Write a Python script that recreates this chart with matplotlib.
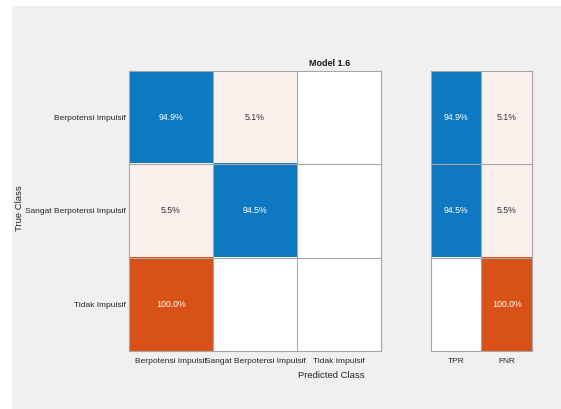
import matplotlib
matplotlib.use("Agg")
import matplotlib.pyplot as plt
import numpy as np
from matplotlib.patches import Rectangle

plt.rcParams["font.family"] = ["Liberation Sans", "DejaVu Sans"]

# Data (row-normalized percentages)
classes = ["Berpotensi Impulsif", "Sangat Berpotensi Impulsif", "Tidak Impulsif"]
pct = [[94.9, 5.1, 0.0],
       [5.5, 94.5, 0.0],
       [100.0, 0.0, 0.0]]
tpr = [94.9, 94.5, 0.0]
fnr = [5.1, 5.5, 100.0]
summary_labels = ["TPR", "FNR"]
title = "Model 1.6"

blue = np.array([0.0, 0.447, 0.741])
orange = np.array([0.85, 0.325, 0.098])
white = np.array([1.0, 1.0, 1.0])


def shade(v, good):
    base = blue if good else orange
    f = v / 100.0
    if 0 < f < 0.9:
        f = min(1.0, f * 1.5)
    return white + f * (base - white)


W, H = 561, 409
fig = plt.figure(figsize=(W / 100, H / 100), dpi=100, facecolor="white")
fig.patches.append(Rectangle((12 / W, 0), 1, 1 - 6 / H, transform=fig.transFigure,
                             facecolor="#f0f0f0", edgecolor="none", zorder=-1))

ax = fig.add_axes([129 / W, 58 / H, 252 / W, 280.5 / H])
ax2 = fig.add_axes([430.5 / W, 58 / H, 101.5 / W, 280.5 / H])

n = len(classes)
M = np.array(pct)
img = np.zeros((n, n, 3))
for i in range(n):
    for j in range(n):
        img[i, j] = shade(M[i, j], i == j)
ax.imshow(img, aspect="auto", extent=(-0.5, n - 0.5, n - 0.5, -0.5))
for i in range(n):
    for j in range(n):
        v = M[i, j]
        if v > 0:
            col = "white" if v > 50 else "#333333"
            ax.text(j, i, f"{v:.1f}%", ha="center", va="center", fontsize=6.3, color=col)

S = np.array([tpr, fnr]).T
img2 = np.zeros((n, 2, 3))
for i in range(n):
    img2[i, 0] = shade(S[i, 0], True)
    img2[i, 1] = shade(S[i, 1], False)
ax2.imshow(img2, aspect="auto", extent=(-0.5, 1.5, n - 0.5, -0.5))
for i in range(n):
    for j in range(2):
        v = S[i, j]
        if v > 0:
            col = "white" if v > 50 else "#333333"
            ax2.text(j, i, f"{v:.1f}%", ha="center", va="center", fontsize=6.3, color=col)

for a, ncol in ((ax, n), (ax2, 2)):
    for k in range(1, ncol):
        a.axvline(k - 0.5, color="#a6a6a6", lw=0.8)
    for k in range(1, n):
        a.axhline(k - 0.5, color="#a6a6a6", lw=0.8)
    for s in a.spines.values():
        s.set_color("#a6a6a6")
        s.set_linewidth(0.8)
    a.tick_params(length=0, labelsize=6.0, colors="#262626")
    a.tick_params(axis="x", pad=5)
    a.tick_params(axis="y", pad=2)

ax.set_xticks(range(n))
ax.set_xticklabels(classes)
ax.set_yticks(range(n))
ax.set_yticklabels(classes)
ax2.set_xticks(range(2))
ax2.set_xticklabels(summary_labels)
ax2.set_yticks([])

fig.text(330 / W, 1 - 63 / H, title, ha="center", va="center", fontsize=6.5,
         fontweight="bold", color="#1a1a1a")
fig.text(331 / W, 1 - 376 / H, "Predicted Class", ha="center", va="center",
         fontsize=6.8, color="#262626")
fig.text(19 / W, 1 - 208 / H, "True Class", ha="center", va="center",
         rotation=90, fontsize=6.8, color="#262626")

fig.savefig("out.png", dpi=100)
